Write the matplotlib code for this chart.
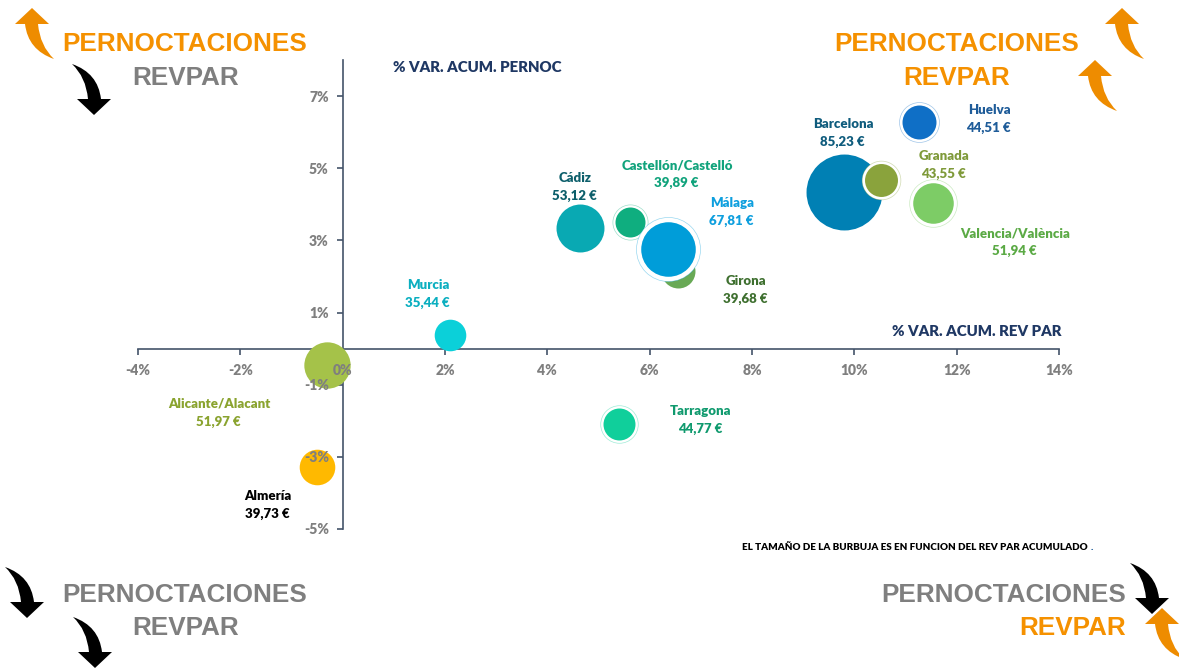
import matplotlib
matplotlib.use("Agg")
import matplotlib.pyplot as plt
from matplotlib.patches import PathPatch
from matplotlib.path import Path

names = ["Barcelona", "Huelva", "Valencia/València", "Granada", "Cádiz", "Girona",
         "Castellón/Castelló", "Málaga", "Murcia", "Alicante/Alacant", "Almería", "Tarragona"]
rev_par = [85.23, 44.51, 51.94, 43.55, 53.12, 39.68, 39.89, 67.81, 35.44, 51.97, 39.73, 44.77]
var_revpar = [9.80, 11.26, 11.53, 10.53, 4.63, 6.55, 5.61, 6.36, 2.09, -0.30, -0.51, 5.41]
var_pernoc = [4.33, 6.27, 4.03, 4.67, 3.34, 2.16, 3.51, 2.77, 0.38, -0.45, -3.28, -2.09]
rev_acum = [1444, 289, 412, 272, 576, 289, 225, 745, 250, 538, 317, 256]

bubble_colors = ["#0080B4", "#0F6FC6", "#7DCC66", "#8AA33C", "#09A9B3", "#68A955",
                 "#0FAE7F", "#009DD9", "#0BD0D9", "#A5C249", "#FFB900", "#10CF9B"]
label_colors = ["#0F5C7D", "#1F5C99", "#5BAA45", "#7F9A3A", "#0D5F6B", "#3F7030",
                "#11A37C", "#0E9FDE", "#0BAFC0", "#8AA32F", "#000000", "#109A6E"]
ringed = [False, True, True, True, False, False, True, True, False, False, False, True]
label_xy = [(843, 133), (989, 119), (1015, 242), (944, 165), (575, 187), (746, 290),
            (677, 174), (732, 212), (428, 294), (219, 413), (268, 505), (701, 420)]

x_ticks = [-4, -2, 0, 2, 4, 6, 8, 10, 12, 14]
y_ticks = [-5, -3, -1, 1, 3, 5, 7]

ORANGE = "#EE8C00"
HEAD_ORANGE = "#F59100"
GREY = "#7F7F7F"
AXIS = "#44546A"
NAVY = "#1F3864"
W, H = 1179, 668

plt.rcParams["font.family"] = ["Lato", "DejaVu Sans"]
fig = plt.figure(figsize=(W / 100, H / 100), dpi=100)
rect = [138 / W, 1 - 529 / H, (1059 - 138) / W, (529 - 60) / H]


def setup(a):
    a.set_xlim(-4, 14)
    a.set_ylim(-5, 8)
    a.set_xticks(x_ticks)
    a.set_yticks(y_ticks)
    a.spines["left"].set_position("zero")
    a.spines["bottom"].set_position("zero")
    a.spines["top"].set_visible(False)
    a.spines["right"].set_visible(False)


ax = fig.add_axes(rect)
setup(ax)
ax.spines["left"].set_color(AXIS)
ax.spines["bottom"].set_color(AXIS)
ax.spines["left"].set_linewidth(1.2)
ax.spines["bottom"].set_linewidth(1.2)
ax.tick_params(length=4, color=AXIS, width=1.2, labelbottom=False, labelleft=False)

# area scale: r in px squared to points squared
for i in range(len(names)):
    s = rev_acum[i] * 2.07
    if ringed[i]:
        ax.scatter(var_revpar[i], var_pernoc[i], s=s * 1.38, facecolor="white",
                   edgecolor=bubble_colors[i] + "66", linewidth=0.5, zorder=3 + i * 0.01, clip_on=False)
    ax.scatter(var_revpar[i], var_pernoc[i], s=s, color=bubble_colors[i], linewidth=0,
               zorder=3 + i * 0.01 + 0.001, clip_on=False)

# tick labels sit on top of the bubbles, so they get their own axes
ax2 = fig.add_axes(rect, zorder=5)
ax2.patch.set_alpha(0)
setup(ax2)
ax2.spines["left"].set_visible(False)
ax2.spines["bottom"].set_visible(False)
ax2.set_xticklabels([f"{t}%" for t in x_ticks])
ax2.set_yticklabels([f"{t}%" for t in y_ticks])
ax2.tick_params(length=0, labelsize=10, labelcolor=GREY, pad=10, axis="y")
ax2.tick_params(length=0, labelsize=10, labelcolor=GREY, pad=11, axis="x")
for lab in ax2.get_xticklabels() + ax2.get_yticklabels():
    lab.set_fontweight("heavy")

# overlay in image pixels for the annotation texts and arrows
ov = fig.add_axes([0, 0, 1, 1], zorder=6)
ov.set_xlim(0, W)
ov.set_ylim(H, 0)
ov.axis("off")

for i in range(len(names)):
    x, y = label_xy[i]
    ov.text(x, y - 9, names[i], color=label_colors[i], fontsize=9.5, fontweight="heavy", ha="center", va="center")
    ov.text(x - 1, y + 9, f"{rev_par[i]:.2f} €".replace(".", ","), color=label_colors[i],
            fontsize=9.5, fontweight="heavy", ha="center", va="center")

ov.text(477, 67, "% VAR. ACUM. PERNOC", color=NAVY, fontsize=10.8, fontweight="heavy", ha="center", va="center")
ov.text(977, 332, "% VAR. ACUM. REV PAR", color=NAVY, fontsize=10.8, fontweight="heavy", ha="center", va="center")
ov.text(1088, 548, "EL TAMAÑO DE LA BURBUJA ES EN FUNCION DEL REV PAR ACUMULADO", color="black",
        fontsize=7.12, fontweight="heavy", ha="right", va="center")
ov.text(1092, 548, ".", color="#1F5C99", fontsize=7.12, fontweight="heavy", ha="center", va="center")


def head(x, y, txt, color, ha="center"):
    ov.text(x, y, txt, color=color, fontsize=18.8, fontweight="bold", family="Liberation Sans", ha=ha, va="center")


head(185, 44, "PERNOCTACIONES", HEAD_ORANGE)
head(186, 78, "REVPAR", GREY)
head(957, 44, "PERNOCTACIONES", HEAD_ORANGE)
head(957, 78, "REVPAR", HEAD_ORANGE)
head(185, 595, "PERNOCTACIONES", GREY)
head(186, 628, "REVPAR", GREY)
head(1126, 595, "PERNOCTACIONES", GREY, ha="right")
head(1126, 628, "REVPAR", HEAD_ORANGE, ha="right")


def curved_arrow(tx, ty, color, d=1):
    # d=1 points up with tail to lower right, d=-1 is the same shape turned round
    pts = [(0, 0), (17, 16), (6, 16), (8, 38), (22, 51), (-4, 42), (-7, 16), (-17, 16), (0, 0)]
    codes = [Path.MOVETO, Path.LINETO, Path.LINETO, Path.CURVE3, Path.CURVE3,
             Path.CURVE3, Path.CURVE3, Path.LINETO, Path.CLOSEPOLY]
    verts = [(tx + d * a, ty + d * b) for a, b in pts]
    ov.add_patch(PathPatch(Path(verts, codes), facecolor=color, edgecolor="none", clip_on=False))


curved_arrow(32, 8, ORANGE)
curved_arrow(94, 115, "black", -1)
curved_arrow(1122, 8, ORANGE)
curved_arrow(1095, 60, ORANGE)
curved_arrow(27, 618, "black", -1)
curved_arrow(95, 668, "black", -1)
curved_arrow(1152, 614, "black", -1)
curved_arrow(1162, 608, ORANGE)

fig.savefig("out.png", dpi=100)
